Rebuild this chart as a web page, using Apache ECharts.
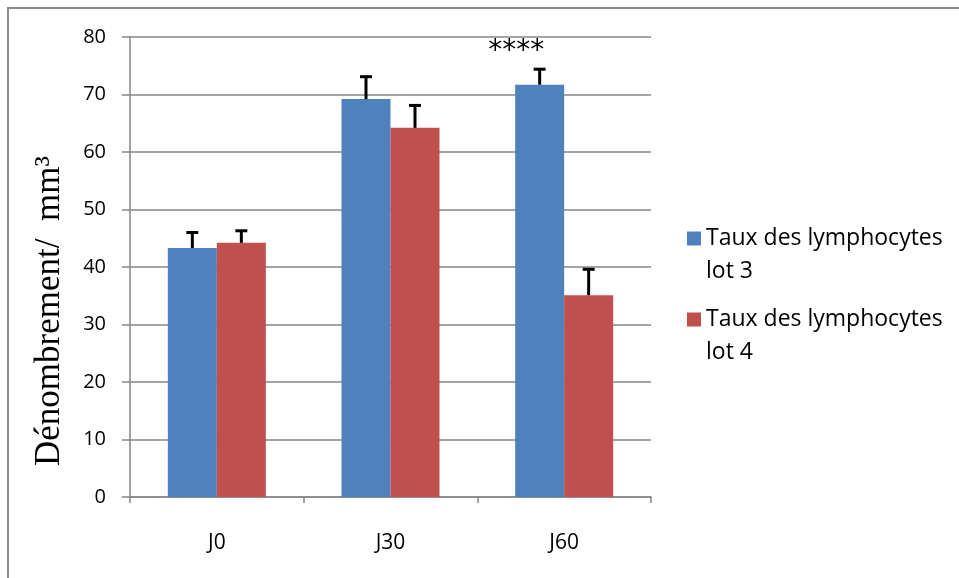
<!DOCTYPE html>
<html>
<head>
<meta charset="utf-8">
<script src="https://cdn.jsdelivr.net/npm/echarts@6/dist/echarts.min.js"></script>
<style>html,body{margin:0;padding:0;background:#fff;}#c{width:959px;height:578px;}</style>
</head>
<body>
<div id="c"></div>
<script>
const categories = ['J0', 'J30', 'J60'];
const lot3 = [43.3, 69.2, 71.7];
const lot4 = [44.2, 64.2, 35.1];
const lot3Err = [2.7, 3.9, 2.7];
const lot4Err = [2.1, 3.9, 4.5];
const seriesNames = ['Taux des lymphocytes\nlot 3', 'Taux des lymphocytes\nlot 4'];
const starLabel = '****';
const starAt = [2, 78];
const yTicks = [0, 10, 20, 30, 40, 50, 60, 70, 80];

const BAR_W = 49;
const chart = echarts.init(document.getElementById('c'));

function errSeries(vals, errs, sign) {
  return {
    type: 'custom',
    data: vals.map((v, i) => [i, v, errs[i]]),
    z: 5,
    silent: true,
    renderItem: function (params, api) {
      const i = api.value(0), v = api.value(1), e = api.value(2);
      const p0 = api.coord([i, v]);
      const p1 = api.coord([i, v + e]);
      const x = p0[0] + sign * BAR_W / 2;
      const cap = 6;
      return {
        type: 'group',
        children: [
          { type: 'line', shape: { x1: x, y1: p0[1], x2: x, y2: p1[1] }, style: { stroke: '#000', lineWidth: 3 } },
          { type: 'line', shape: { x1: x - cap, y1: p1[1], x2: x + cap, y2: p1[1] }, style: { stroke: '#000', lineWidth: 3 } }
        ]
      };
    }
  };
}

const iconPath = 'path://M0,0h0.01v0.01h-0.01Z M0,9.5h14v14h-14Z M0,66h0.01v0.01h-0.01Z';

chart.setOption({
  animation: false,
  backgroundColor: '#fff',
  graphic: [{
    type: 'rect', shape: { x: 8, y: 8, width: 1000, height: 600 },
    style: { fill: 'none', stroke: '#8c8c8c', lineWidth: 2 }, z: 0
  }],
  grid: { left: 130, right: 308, top: 37, bottom: 81 },
  legend: {
    orient: 'vertical',
    left: 682, top: 217,
    itemWidth: 14, itemHeight: 66,
    itemGap: 15,
    icon: iconPath,
    textStyle: { fontFamily: 'Open Sans', fontSize: 23, color: '#000', lineHeight: 33 },
    data: seriesNames
  },
  xAxis: {
    type: 'category',
    data: categories,
    axisLine: { lineStyle: { color: '#868686', width: 1.5 } },
    axisTick: { show: true, length: 6, lineStyle: { color: '#868686', width: 1.5 } },
    axisLabel: { color: '#000', fontFamily: 'Open Sans', fontSize: 21, margin: 36 }
  },
  yAxis: {
    type: 'value',
    min: yTicks[0], max: yTicks[yTicks.length - 1], interval: 10,
    name: 'Dénombrement/  mm³',
    nameLocation: 'middle',
    nameGap: 63,
    nameTextStyle: { fontFamily: 'Liberation Serif', fontSize: 35, color: '#000', padding: [0, 88, 0, 0] },
    axisLine: { show: true, lineStyle: { color: '#868686', width: 1.5 } },
    axisTick: { show: true, inside: false, length: 8, lineStyle: { color: '#868686', width: 1.5 } },
    splitLine: { lineStyle: { color: '#868686', width: 1.5 } },
    axisLabel: { color: '#000', fontFamily: 'Open Sans', fontSize: 20, margin: 24 }
  },
  series: [
    {
      name: seriesNames[0], type: 'bar', data: lot3, barWidth: BAR_W, barGap: '0%',
      itemStyle: { color: '#4F81BD' }, z: 3
    },
    {
      name: seriesNames[1], type: 'bar', data: lot4, barWidth: BAR_W,
      itemStyle: { color: '#C0504D' }, z: 3
    },
    errSeries(lot3, lot3Err, -1),
    errSeries(lot4, lot4Err, 1),
    {
      type: 'custom',
      silent: true,
      z: 6,
      data: [starAt],
      renderItem: function (params, api) {
        const p = api.coord([api.value(0), api.value(1)]);
        return {
          type: 'text',
          x: p[0] - 48, y: p[1] + 3,
          style: { text: starLabel, fill: '#000', font: '28px "DejaVu Sans"', align: 'center', verticalAlign: 'middle' }
        };
      }
    }
  ]
});
</script>
</body>
</html>
